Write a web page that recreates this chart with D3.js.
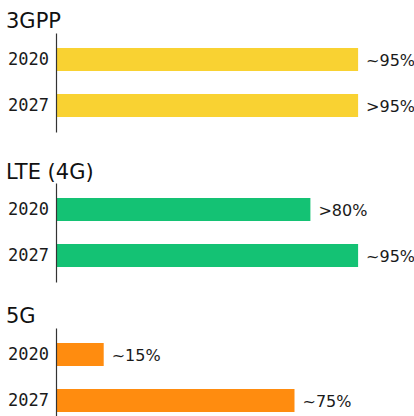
<!DOCTYPE html>
<html>
<head>
<meta charset="utf-8">
<script src="https://cdn.jsdelivr.net/npm/d3@7"></script>
<style>
  body { margin: 0; background: #fff; }
  svg { display: block; }
</style>
</head>
<body>
<div class="container"></div>
<script>
// one panel per technology, two years each
const panels = ['3GPP', 'LTE (4G)', '5G'];
const years = ['2020', '2027'];

// coverage share (%)
const values3gpp = [95, 95];
const valuesLte = [80, 95];
const values5g = [15, 75];

// printed value labels
const labels3gpp = ['~95%', '>95%'];
const labelsLte = ['>80%', '~95%'];
const labels5g = ['~15%', '~75%'];

const colors = ['#f9d232', '#14c274', '#ff8c0f'];

const width = 414;
const height = 416;
const left = 56;
const panelTops = [0, 150, 295];

const seriesValues = [values3gpp, valuesLte, values5g];
const seriesLabels = [labels3gpp, labelsLte, labels5g];

const svg = d3.select('.container')
    .append('svg')
    .attr('width', width)
    .attr('height', height);

const xscale = d3.scaleLinear().domain([0, 100]).range([left, left + 318]);

panels.forEach((name, p) => {
    const g = svg.append('g')
        .attr('transform', `translate(0, ${panelTops[p]})`);

    const yscale = d3.scaleBand()
        .domain(years)
        .range([33, 132])
        .paddingInner(0.5)
        .paddingOuter(0.326);

    const rows = years.map((year, i) => ({
        year,
        value: seriesValues[p][i],
        label: seriesLabels[p][i],
    }));

    g.append('text')
        .attr('x', 6)
        .attr('y', p === 1 ? 29 : 28)
        .attr('font-family', 'DejaVu Sans, sans-serif')
        .attr('font-size', 21)
        .attr('fill', '#111')
        .text(name);

    g.selectAll('.bar')
        .data(rows)
        .enter()
        .append('rect')
        .attr('class', 'bar')
        .attr('x', xscale(0))
        .attr('y', d => yscale(d.year))
        .attr('width', d => xscale(d.value) - xscale(0))
        .attr('height', yscale.bandwidth())
        .attr('fill', colors[p]);

    g.selectAll('.value')
        .data(rows)
        .enter()
        .append('text')
        .attr('class', 'value')
        .attr('x', d => xscale(d.value) + 8)
        .attr('y', d => yscale(d.year) + yscale.bandwidth() / 2)
        .attr('dy', '0.38em')
        .attr('font-family', 'DejaVu Sans, sans-serif')
        .attr('font-size', 16)
        .attr('fill', '#1a1a1a')
        .text(d => d.label);

    const axis = g.append('g')
        .attr('transform', `translate(${left}, 0)`)
        .call(d3.axisLeft(yscale).tickSize(0).tickPadding(7));

    axis.select('.domain')
        .attr('stroke', '#333')
        .attr('stroke-width', 1.2);
    axis.selectAll('text')
        .attr('font-family', 'DejaVu Sans Mono, monospace')
        .attr('font-size', 17)
        .attr('fill', '#1a1a1a');
});
</script>
</body>
</html>
